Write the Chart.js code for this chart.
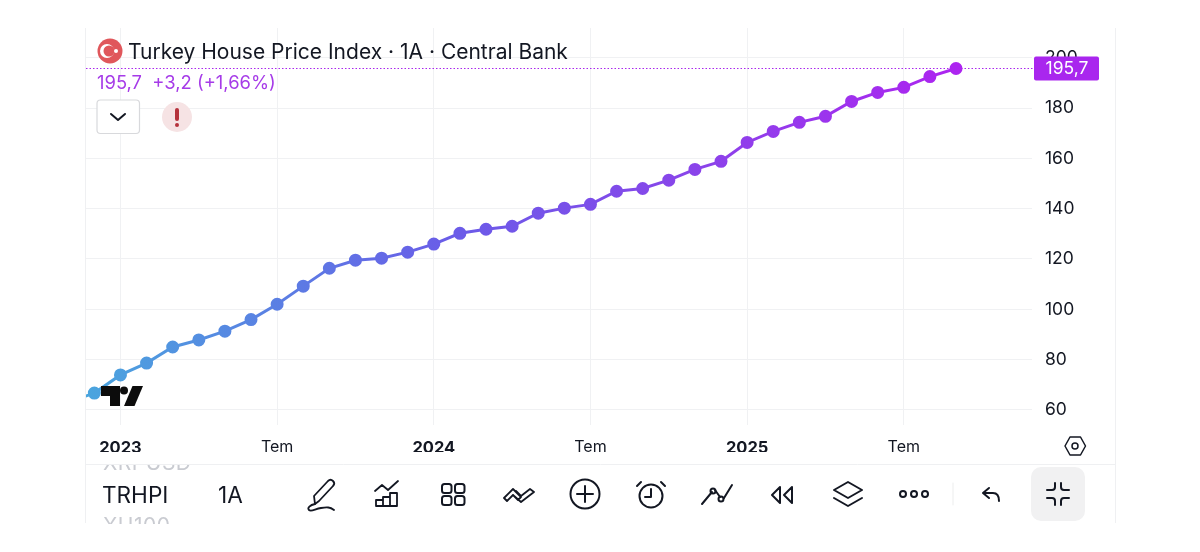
<!DOCTYPE html>
<html lang="tr"><head><meta charset="utf-8">
<script src="https://cdn.jsdelivr.net/npm/chart.js@4"></script>
<style>
html,body{margin:0;padding:0;background:#fff;width:1200px;height:552px;overflow:hidden}
body{position:relative;font-family:Inter,"Liberation Sans",sans-serif;color:#131722}
canvas{position:absolute;left:0;top:0}
.t{position:absolute;white-space:nowrap;line-height:1}
svg.o{position:absolute;left:0;top:0;pointer-events:none}
.clip{position:absolute;overflow:hidden;color:#c9cbd1;font-size:21px;line-height:1;white-space:nowrap;letter-spacing:.5px}
</style></head><body>
<canvas id="c" width="1200" height="552"></canvas>
<div class="clip" style="left:102px;top:465px;width:92px;height:7px"><span style="position:absolute;top:-13px;left:1px">XRPUSD</span></div>
<div class="clip" style="left:102px;top:516px;width:92px;height:8px"><span style="position:absolute;top:-1px;left:1px">XU100</span></div>
<div class="t" style="left:128px;top:41px;font-size:21px">Turkey House Price Index · 1A · Central Bank</div>
<div class="t" style="left:97px;top:73px;font-size:18.4px;color:#a63be8">195,7&nbsp; +3,2 (+1,66%)</div>
<div class="t" style="left:102px;top:484px;font-size:22.6px">TRHPI</div>
<div class="t" style="left:218px;top:484px;font-size:22.6px">1A</div>
<svg class="o" width="1200" height="552" viewBox="0 0 1200 552" fill="none" stroke="#131722" stroke-width="2" stroke-linecap="round" stroke-linejoin="round">
<!-- flag -->
<circle cx="110" cy="51" r="12.500" fill="#e0575b" stroke="none"/>
<circle cx="107" cy="51" r="7" fill="#fff" stroke="none"/><circle cx="109" cy="51" r="5.500" fill="#e0575b" stroke="none"/>
<circle cx="116" cy="51" r="2" fill="#fff" stroke="none"/>
<!-- dropdown -->
<rect x="97" y="100" width="42.500" height="33.500" rx="3.500" fill="#fff" stroke="#d8d9dc" stroke-width="1.200"/>
<path d="M111 114l7 6 7-6"/>
<!-- warning -->
<circle cx="177" cy="117" r="15" fill="#f6e3e4" stroke="none"/>
<path d="M177 110v9" stroke="#b5323c" stroke-width="4"/><circle cx="177" cy="125" r="2" fill="#b5323c" stroke="none"/>
<!-- TV logo -->
<path d="M101 386h19v20h-10v-10h-9z" fill="#0c0c0c" stroke="none"/>
<circle cx="124" cy="390.500" r="4" fill="#0c0c0c" stroke="none"/>
<path d="M132.500 386h10.500l-8.500 20h-10.500z" fill="#0c0c0c" stroke="none"/>
<!-- hexagon -->
<path d="M1070 437h10.500l5 9-5 9h-10.500l-5-9z" stroke-width="1.500"/><circle cx="1075" cy="446" r="3" stroke-width="1.500"/>
<!-- pen -->
<path d="M315 504l-1-8 14-15c1.500-1.500 3.500-1.500 5 0s1.500 3.500 0 5l-14 15z" stroke-width="1.800"/><path d="M315 504c-5 1-8 4-6 6s6-1 12-2 9-1 13 2" stroke-width="1.800"/>
<!-- chart -->
<path d="M375 491l7-6 6 5 10-9M376 506v-6h7v6zM383 506v-9h7v9zM390 506v-13h7v13zM376 506h21" stroke-width="1.800"/>
<!-- grid -->
<rect x="442" y="484" width="9.500" height="9" rx="2.500"/><rect x="455" y="484" width="9.500" height="9" rx="2.500"/><rect x="442" y="496" width="9.500" height="9" rx="2.500"/><rect x="455" y="496" width="9.500" height="9" rx="2.500"/>
<!-- chevrons -->
<path d="M504 498l9-9 8 8-3 3-5-5-6 6zM516 491l5 5 9-7 4 3-13 10-8-7" stroke-width="1.800"/>
<!-- plus -->
<circle cx="585" cy="494" r="14.500"/><path d="M577 494h16M585 486v16"/>
<!-- alarm -->
<circle cx="651" cy="496" r="11.500"/><path d="M651 489v8h-6M637 486l4-4M665 486l-4-4"/>
<!-- line -->
<path d="M702 504l10-12M715 490l5 7M724 498l8-13"/><circle cx="713" cy="491" r="2.500"/><circle cx="721" cy="499" r="2.500"/>
<!-- rewind -->
<path d="M780 487l-8 8 8 8zM792 487l-8 8 8 8z"/>
<!-- layers -->
<path d="M848 482l14 8-14 8-14-8zM834 498l14 8 14-8"/>
<!-- dots -->
<circle cx="903" cy="494" r="3"/><circle cx="914" cy="494" r="3"/><circle cx="925" cy="494" r="3"/>
<path d="M953 483v22" stroke="#eceded" stroke-width="1"/>
<!-- undo -->
<path d="M989 488l-6 5 6 5M983 493h10c4 0 6 3 6 8"/>
<!-- collapse -->
<rect x="1031" y="467" width="54" height="54" rx="10" fill="#f1f1f2" stroke="none"/>
<path d="M1055 483v4c0 2-1 3-3 3h-5M1061 483v4c0 2 1 3 3 3h5M1055 505v-4c0-2-1-3-3-3h-5M1061 505v-4c0-2 1-3 3-3h5"/>
</svg>
<script>
const months = [-1,0,1,2,3,4,5,6,7,8,9,10,11,12,13,14,15,16,17,18,19,20,21,22,23,24,25,26,27,28,29,30,31,32,33];
const values = [63,66.7,73.9,78.6,85,87.8,91.3,95.9,102,109.2,116.3,119.5,120.3,122.7,125.9,130.2,131.8,133,138.2,140.2,141.7,146.9,148,151.3,155.6,158.8,166.3,170.7,174.3,176.7,182.6,186.2,188.2,192.5,195.7];
const yTicks = [60,80,100,120,140,160,180,200];
const xTickMonths = [1,7,13,19,25,31];
const xTickLabels = ["2023","Tem","2024","Tem","2025","Tem"];
const majorLabels = ["2023","2024","2025"];
const lastLabel = "195,7";
const purple = "#a926ee";

function grad(ctx){
  const {chart}=ctx, a=chart.chartArea;
  if(!a) return "#6c5ce7";
  const g=chart.ctx.createLinearGradient(86,0,956,0);
  g.addColorStop(0,"#4aa5de");g.addColorStop(0.42,"#6a5ce8");g.addColorStop(0.7,"#8a44ea");g.addColorStop(1,"#ad24f0");
  return g;
}
const overlay={id:"priceLine",afterDatasetsDraw(chart){
  const c=chart.ctx,y=chart.scales.y.getPixelForValue(values[values.length-1]);
  c.save();
  c.strokeStyle=purple;c.lineWidth=1;c.setLineDash([1.5,2]);
  c.beginPath();c.moveTo(86,y);c.lineTo(1034,y);c.stroke();c.setLineDash([]);
  c.fillStyle=purple;c.beginPath();c.roundRect(1034,y-12,65,24,2);c.fill();
  c.fillStyle="#fff";c.font="17.5px Inter";c.textAlign="center";c.textBaseline="middle";
  c.fillText(lastLabel,1067,y+.5);
  c.strokeStyle="#eff0f2";c.beginPath();
  c.moveTo(85.5,28);c.lineTo(85.5,523);c.moveTo(1115.5,28);c.lineTo(1115.5,523);
  c.moveTo(86,464.5);c.lineTo(1115,464.5);c.stroke();
  c.restore();
}};
new Chart(document.getElementById("c"),{
  type:"line",
  data:{datasets:[{data:months.map((m,i)=>({x:m,y:values[i]})),borderColor:grad,pointBackgroundColor:grad,pointBorderColor:grad,borderWidth:3,pointRadius:5,pointHoverRadius:5,tension:0}]},
  plugins:[overlay],
  options:{responsive:false,animation:false,devicePixelRatio:1,
    layout:{padding:{left:86,top:28,right:100,bottom:100}},
    plugins:{legend:{display:false},tooltip:{enabled:false}},
    scales:{
      x:{type:"linear",min:-0.32,max:35.91,
        afterBuildTicks:s=>{s.ticks=xTickMonths.map(v=>({value:v}))},
        afterFit:s=>{s.height=27},
        grid:{color:"#f0f1f3",drawTicks:false},border:{display:false},
        ticks:{autoSkip:false,maxRotation:0,padding:13,color:"#131722",
          callback:(v)=>xTickLabels[xTickMonths.indexOf(v)],
          font:c=>{const l=xTickLabels[c.index];return majorLabels.includes(l)?{family:"Inter",size:16.5,weight:"bold"}:{family:"Inter",size:16}}}},
      y:{position:"right",min:54,max:211.8,
        afterBuildTicks:s=>{s.ticks=yTicks.map(v=>({value:v}))},
        afterFit:s=>{s.width=68},
        grid:{color:"#f0f1f3",drawTicks:false},border:{display:false},
        ticks:{padding:13,color:"#131722",font:{family:"Inter",size:17.5},callback:v=>String(v)}}
    }}
});
</script>
</body></html>
